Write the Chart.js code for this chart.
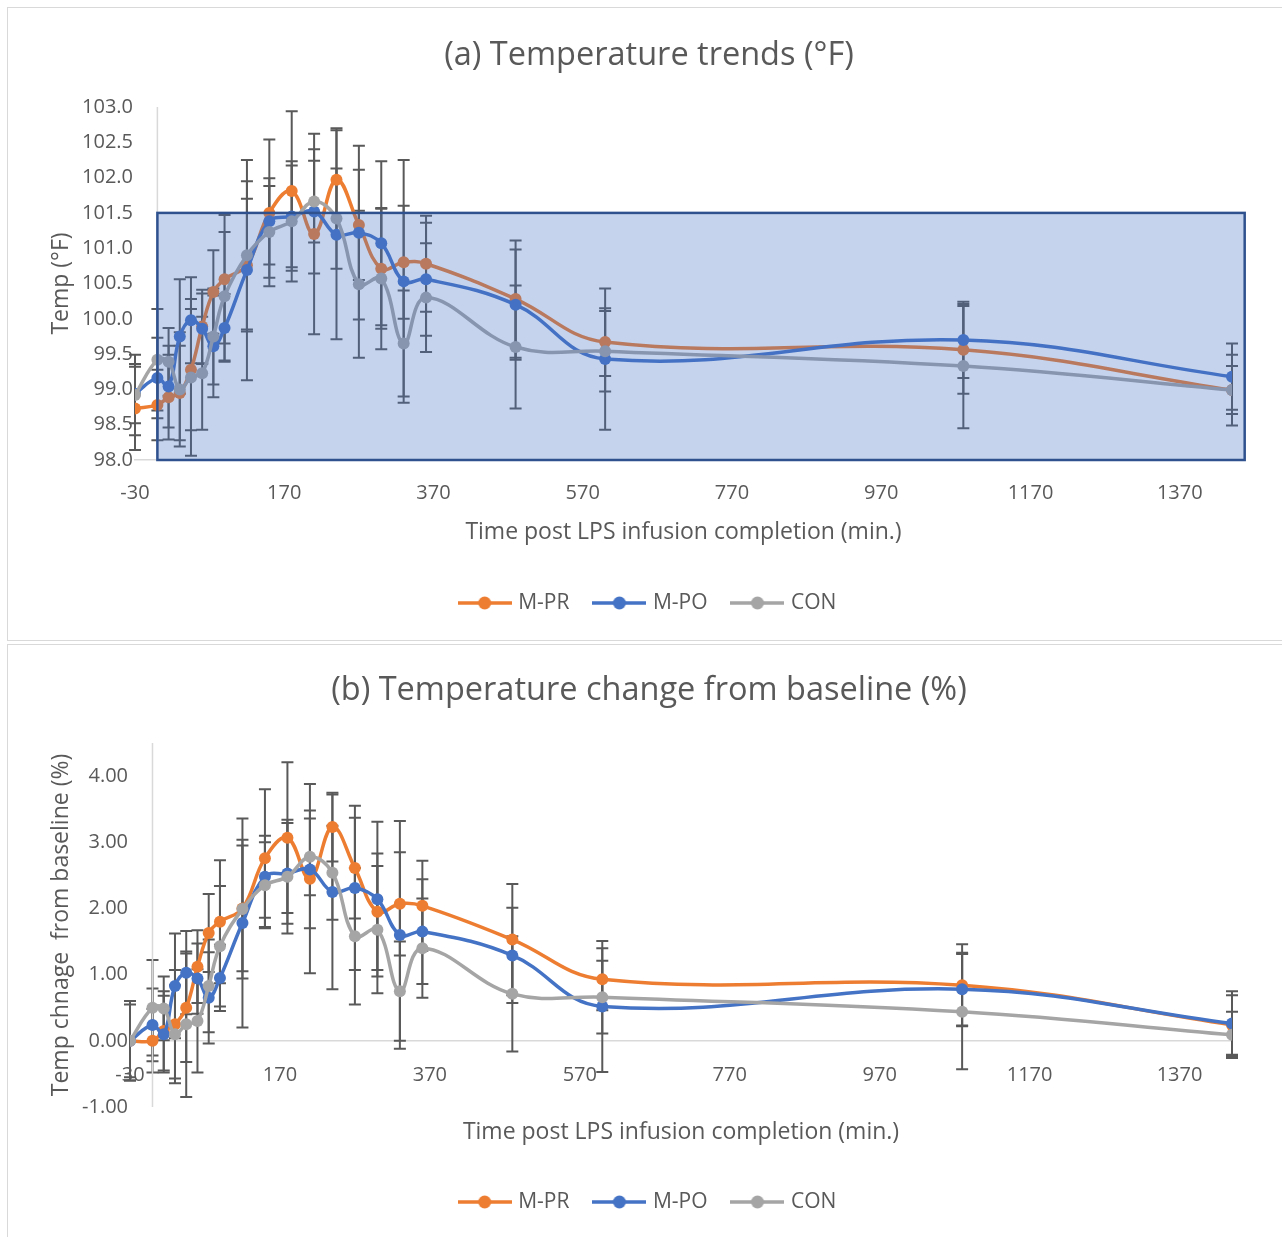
<!DOCTYPE html>
<html><head><meta charset="utf-8">
<script src="https://cdn.jsdelivr.net/npm/chart.js@4.4.1/dist/chart.umd.min.js"></script>
<style>
html,body{margin:0;padding:0;background:#fff;overflow:hidden;width:1282px;height:1237px;}
.box{position:absolute;border:1.5px solid #D9D9D9;box-sizing:border-box;pointer-events:none;}
#c1wrap{position:absolute;left:0;top:0;width:1282px;height:640px;}
#c2wrap{position:absolute;left:0;top:643px;width:1282px;height:594px;}
</style></head><body>
<div id="c1wrap"><canvas id="c1"></canvas></div>
<div id="c2wrap"><canvas id="c2"></canvas></div>
<div class="box" style="left:7px;top:7px;width:1290px;height:634px;"></div>
<div class="box" style="left:7px;top:644px;width:1290px;height:600px;"></div>
<script>
// ---------- data ----------
const times = [-30,0,15,30,45,60,75,90,120,150,180,210,240,270,300,330,360,480,600,1080,1440];
const seriesNames = ['M-PR','M-PO','CON'];

const prTemp  = [98.73,98.78,98.89,98.95,99.28,99.89,100.38,100.56,100.76,101.50,101.81,101.20,101.97,101.33,100.71,100.80,100.78,100.28,99.67,99.56,98.99];
const poTemp  = [98.94,99.16,99.04,99.75,99.98,99.86,99.61,99.87,100.69,101.38,101.45,101.52,101.19,101.22,101.07,100.53,100.56,100.20,99.43,99.70,99.18];
const conTemp = [98.92,99.42,99.39,99.00,99.17,99.23,99.75,100.32,100.90,101.23,101.38,101.66,101.42,100.49,100.57,99.65,100.30,99.60,99.54,99.33,98.99];

const prTempErr  = [0.59,0.50,0.60,0.67,0.86,0.52,0.59,0.91,0.94,1.04,1.13,1.42,0.73,0.78,0.85,0.80,0.68,0.83,0.48,0.62,0.34];
const poTempErr  = [0.42,0.57,0.58,0.81,0.61,0.50,0.72,0.48,1.56,0.61,0.72,0.88,1.48,1.23,1.16,1.72,0.80,0.78,1.00,0.54,0.47];
const conTempErr = [0.57,0.72,0.48,0.81,1.11,0.80,0.68,0.91,1.05,0.65,0.85,0.58,0.71,1.04,1.00,0.75,0.77,0.87,0.57,0.88,0.50];

const prChg  = [0.00,0.00,0.15,0.25,0.50,1.12,1.63,1.80,2.00,2.76,3.07,2.45,3.23,2.61,1.95,2.07,2.04,1.53,0.93,0.84,0.24];
const poChg  = [0.00,0.24,0.10,0.83,1.03,0.94,0.65,0.95,1.78,2.48,2.53,2.59,2.25,2.31,2.14,1.60,1.65,1.29,0.52,0.78,0.26];
const conChg = [0.00,0.50,0.49,0.10,0.25,0.30,0.83,1.43,1.99,2.35,2.48,2.78,2.54,1.58,1.68,0.75,1.40,0.71,0.66,0.44,0.09];

const prChgErr  = [0.60,0.48,0.60,0.82,0.82,0.55,0.59,0.93,0.95,1.04,1.14,1.43,0.52,0.76,0.88,0.78,0.68,0.84,0.47,0.62,0.45];
const poChgErr  = [0.55,0.55,0.58,0.79,0.63,0.53,0.69,0.50,1.58,0.62,0.76,0.89,1.47,1.24,1.17,1.72,0.79,0.72,0.99,0.55,0.49];
const conChgErr = [0.60,0.72,0.48,0.74,1.10,0.78,0.70,0.91,1.05,0.65,0.86,0.58,0.71,1.03,0.96,0.75,0.75,0.87,0.55,0.87,0.35];

const xTicks    = [-30,170,370,570,770,970,1170,1370];
const tempTicks = [98.0,98.5,99.0,99.5,100.0,100.5,101.0,101.5,102.0,102.5,103.0];
const chgTicks  = [-1,0,1,2,3,4];

// shaded normal-range annotation (data units)
const normalBand = {xMin:0, xMax:1457, yMin:98, yMax:101.5};

// ---------- styling ----------
const FONT = "'Open Sans', sans-serif";
const TXT = '#595959';
const AXIS = '#D9D9D9';
const seriesColors = ['#ED7D31','#4472C4','#A5A5A5'];
const seriesOrder = [3,2,1];

function makeIcon(color){
  const c=document.createElement('canvas'); c.width=54; c.height=16;
  const g=c.getContext('2d');
  g.strokeStyle=color; g.lineWidth=3.5; g.beginPath(); g.moveTo(0,8); g.lineTo(54,8); g.stroke();
  g.fillStyle=color; g.beginPath(); g.arc(27,8,6.5,0,Math.PI*2); g.fill();
  return c;
}
const icons = seriesColors.map(makeIcon);

const errorBars = {
  id:'errorBars',
  beforeDatasetsDraw(chart){
    const {ctx, scales:{x,y}} = chart;
    ctx.save(); ctx.strokeStyle='#595959'; ctx.lineWidth=2;
    chart.data.datasets.forEach(ds=>{
      ds.errors.forEach((e,i)=>{
        const px=x.getPixelForValue(ds.data[i].x), v=ds.data[i].y;
        const yt=y.getPixelForValue(v+e), yb=y.getPixelForValue(v-e), c=6;
        ctx.beginPath();
        ctx.moveTo(px,yt); ctx.lineTo(px,yb);
        ctx.moveTo(px-c,yt); ctx.lineTo(px+c,yt);
        ctx.moveTo(px-c,yb); ctx.lineTo(px+c,yb);
        ctx.stroke();
      });
    });
    ctx.restore();
  }
};
const valueAxisLine = {
  id:'valueAxisLine',
  beforeDatasetsDraw(chart){
    const {ctx, chartArea, scales:{x}} = chart;
    const px = x.getPixelForValue(0);
    ctx.save(); ctx.strokeStyle=AXIS; ctx.lineWidth=1.5;
    ctx.beginPath(); ctx.moveTo(px,chartArea.top); ctx.lineTo(px,chartArea.bottom); ctx.stroke();
    ctx.restore();
  }
};
const bandOverlay = {
  id:'bandOverlay',
  afterDatasetsDraw(chart, args, opts){
    if(!opts || !opts.band) return;
    const {ctx, scales:{x,y}} = chart, b=opts.band;
    const l=x.getPixelForValue(b.xMin), r=x.getPixelForValue(b.xMax);
    const t=y.getPixelForValue(b.yMax), bt=y.getPixelForValue(b.yMin);
    ctx.save();
    ctx.fillStyle='rgba(68,114,196,0.31)'; ctx.fillRect(l,t,r-l,bt-t);
    ctx.strokeStyle='#2F528F'; ctx.lineWidth=2.5; ctx.strokeRect(l,t,r-l,bt-t);
    ctx.restore();
  }
};

function makeDatasets(vals, errs){
  return seriesNames.map((n,k)=>({
    label:n, xAxisID:'x', yAxisID:'y', order:seriesOrder[k],
    data: times.map((t,i)=>({x:t, y:vals[k][i]})),
    errors: errs[k],
    borderColor:seriesColors[k], backgroundColor:seriesColors[k],
    pointBackgroundColor:seriesColors[k], pointBorderColor:seriesColors[k],
    pointRadius:6, pointBorderWidth:0, borderWidth:3.5, tension:0.4, fill:false
  }));
}
function legendOpts(){
  return {
    position:'bottom',
    labels:{
      usePointStyle:true, pointStyleWidth:46, padding:27, color:TXT,
      font:{family:FONT, size:21},
      generateLabels:(chart)=>chart.data.datasets.map((ds,i)=>({
        text:ds.label, pointStyle:icons[i], fillStyle:ds.borderColor, strokeStyle:ds.borderColor,
        lineWidth:0, hidden:false, datasetIndex:i, fontColor:TXT
      }))
    }
  };
}
const tickFont = {family:FONT, size:20};
const titleFont = {family:FONT, size:23};
const LEFT = 66;

// ---------- chart (a) ----------
new Chart(document.getElementById('c1'), {
  type:'line',
  data:{datasets:makeDatasets([prTemp,poTemp,conTemp],[prTempErr,poTempErr,conTempErr])},
  plugins:[errorBars, valueAxisLine, bandOverlay],
  options:{
    responsive:true, maintainAspectRatio:false, animation:false,
    layout:{padding:{top:0,left:LEFT,right:50,bottom:16.5}},
    plugins:{
      title:{display:true, text:'(a) Temperature trends (°F)', color:TXT, font:{family:FONT,size:32.5,weight:'normal'}, padding:{top:36.2,bottom:31.8}},
      legend:legendOpts(), tooltip:{enabled:false},
      bandOverlay:{band:normalBand}
    },
    scales:{
      x:{type:'linear', position:'bottom', min:-30, max:1440,
        afterBuildTicks:s=>{s.ticks=xTicks.map(v=>({value:v}));},
        afterFit:s=>{s.height=105.5;},
        grid:{display:false, drawTicks:false}, border:{display:true, color:AXIS, width:1.5},
        ticks:{color:TXT, font:tickFont, padding:21, maxRotation:0, autoSkip:false, callback:v=>String(v)},
        title:{display:true, text:'Time post LPS infusion completion (min.)', color:TXT, font:titleFont, padding:{top:0,bottom:19.7}}},
      y:{type:'linear', position:'left', min:98, max:103,
        afterBuildTicks:s=>{s.ticks=tempTicks.map(v=>({value:v}));},
        afterFit:s=>{s.width=135-LEFT;},
        grid:{display:false, drawTicks:false}, border:{display:false},
        ticks:{color:TXT, font:tickFont, padding:2, callback:v=>Number(v).toFixed(1)},
        title:{display:true, text:'Temp (°F)', color:TXT, font:titleFont, padding:{top:61-LEFT-13.8,bottom:0}}}
    }
  }
});

// ---------- chart (b) ----------
new Chart(document.getElementById('c2'), {
  type:'line',
  data:{datasets:makeDatasets([prChg,poChg,conChg],[prChgErr,poChgErr,conChgErr])},
  plugins:[errorBars, valueAxisLine],
  options:{
    responsive:true, maintainAspectRatio:false, animation:false,
    layout:{padding:{top:0,left:LEFT,right:50,bottom:14.5}},
    plugins:{
      title:{display:true, text:'(b) Temperature change from baseline (%)', color:TXT, font:{family:FONT,size:32.5,weight:'normal'}, padding:{top:28.5,bottom:32.5}},
      legend:legendOpts(), tooltip:{enabled:false}
    },
    scales:{
      x:{type:'linear', position:{y:0}, min:-30, max:1440,
        afterBuildTicks:s=>{s.ticks=xTicks.map(v=>({value:v}));},
        grid:{display:false, drawTicks:false}, border:{display:true, color:AXIS, width:1.5},
        ticks:{color:TXT, font:tickFont, padding:22, maxRotation:0, autoSkip:false, callback:v=>String(v)}},
      x2:{type:'linear', position:'bottom', min:0, max:1, display:true,
        afterFit:s=>{s.height=57.5;},
        grid:{display:false, drawTicks:false}, border:{display:false},
        ticks:{display:false},
        title:{display:true, text:'Time post LPS infusion completion (min.)', color:TXT, font:titleFont, padding:{top:0,bottom:18.7}}},
      y:{type:'linear', position:'left', min:-1, max:4.5,
        afterBuildTicks:s=>{s.ticks=chgTicks.map(v=>({value:v}));},
        afterFit:s=>{s.width=130-LEFT;},
        grid:{display:false, drawTicks:false}, border:{display:false},
        ticks:{color:TXT, font:tickFont, padding:2, callback:v=>Number(v).toFixed(2)},
        title:{display:true, text:'Temp chnage  from baseline (%)', color:TXT, font:titleFont, padding:{top:61-LEFT-13.8,bottom:0}}}
    }
  }
});
</script>
</body></html>
